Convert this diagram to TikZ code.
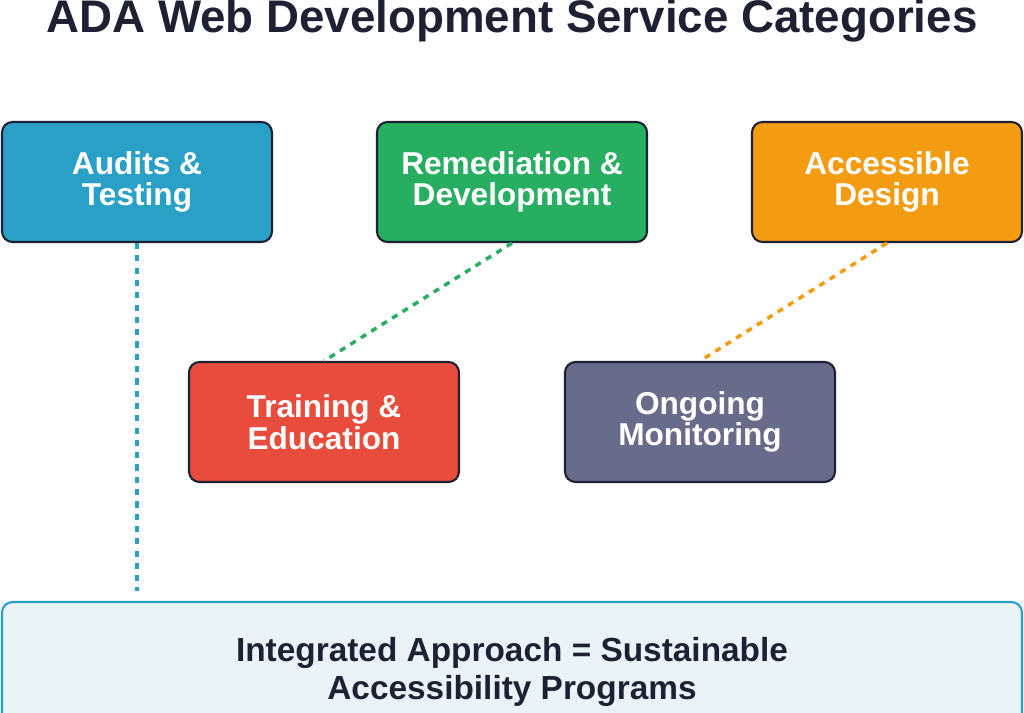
\documentclass[tikz,border=0pt]{standalone}
\usepackage{fontspec}
\setmainfont{Liberation Sans}
\usepackage{xcolor}
\usetikzlibrary{positioning}
\definecolor{ink}{RGB}{30,33,52}
\definecolor{audit}{RGB}{43,160,199}
\definecolor{remed}{RGB}{39,174,96}
\definecolor{design}{RGB}{243,156,18}
\definecolor{train}{RGB}{231,76,60}
\definecolor{monitor}{RGB}{104,108,138}
\definecolor{panel}{RGB}{234,244,248}
\tikzset{
    service/.style={rectangle, rounded corners=6pt, minimum width=5.4cm, minimum height=2.4cm, text centered, draw=ink, line width=1.2pt, align=center, text=white, font=\bfseries\fontsize{18}{18}\selectfont},
    link/.style={line width=2pt, dash pattern=on 3.5pt off 3.5pt}
}
\begin{document}
\begin{tikzpicture}
    \useasboundingbox (0,0) rectangle (20.48,14.26);
    % Title
    \node[text=ink, font=\bfseries\fontsize{26}{26}\selectfont] (title) at (10.24,13.84) {ADA Web Development Service Categories};

    % Services
    \node[service, fill=audit] (audits) at (2.74,10.62) {Audits \&\\ Testing};
    \node[service, fill=remed] (remediation) at (10.24,10.62) {Remediation \&\\ Development};
    \node[service, fill=design] (design) at (17.74,10.62) {Accessible\\ Design};
    \node[service, fill=train] (training) at (6.48,5.82) {Training \&\\ Education};
    \node[service, fill=monitor] (monitoring) at (14.0,5.82) {Ongoing\\ Monitoring};

    % Summary panel
    \node[rectangle, rounded corners=6pt, minimum width=20.4cm, minimum height=2.8cm, draw=audit, line width=1.2pt, fill=panel, text=ink, align=center, font=\bfseries\fontsize{19}{22}\selectfont] (approach) at (10.24,0.82) {Integrated Approach = Sustainable\\ Accessibility Programs};

    % Links
    \draw[link, audit] (audits.south) -- ([yshift=0.2cm]audits.south |- approach.north);
    \draw[link, remed] (remediation.south) -- (training.north);
    \draw[link, design] (design.south) -- (monitoring.north);
\end{tikzpicture}
\end{document}
